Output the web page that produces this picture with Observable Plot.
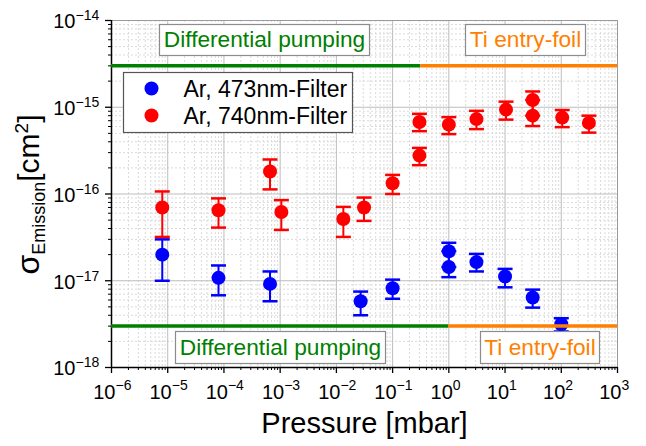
<!DOCTYPE html>
<html><head><meta charset="utf-8">
<script src="https://cdn.jsdelivr.net/npm/d3@7"></script>
<script src="https://cdn.jsdelivr.net/npm/@observablehq/plot@0.6"></script>
<style>
body{margin:0;background:#fff;}
svg{font-family:"Liberation Sans",Arial,sans-serif;}
</style>
</head><body><div id="chart"></div>
<script>
// ---- data: Ar, 473nm-Filter (blue)
const pressure473 = [8e-6, 8e-5, 6.6e-4, 0.027, 0.1, 1, 1, 3.1, 10, 31, 100];
const sigma473    = [2.0e-17, 1.08e-17, 9.2e-18, 5.8e-18, 8.2e-18, 2.19e-17, 1.44e-17, 1.64e-17, 1.12e-17, 6.4e-18, 3.15e-18];
const low473      = [1.0e-17, 6.8e-18, 5.8e-18, 4.0e-18, 6.2e-18, 1.44e-17, 1.10e-17, 1.28e-17, 8.4e-18, 4.9e-18, 2.6e-18];
const high473     = [3.0e-17, 1.5e-17, 1.28e-17, 7.5e-18, 1.03e-17, 2.74e-17, 2.19e-17, 2.04e-17, 1.37e-17, 7.9e-18, 3.7e-18];
// ---- data: Ar, 740nm-Filter (red)
const pressure740 = [8e-6, 8e-5, 6.6e-4, 1.05e-3, 0.0133, 0.031, 0.1, 0.3, 0.3, 1, 3.1, 10.4, 31, 31, 104, 310];
const sigma740    = [7.0e-17, 6.5e-17, 1.82e-16, 6.2e-17, 5.15e-17, 7.0e-17, 1.33e-16, 2.77e-16, 6.76e-16, 6.3e-16, 7.3e-16, 9.4e-16, 1.21e-15, 8.0e-16, 7.6e-16, 6.6e-16];
const low740      = [3.2e-17, 4.1e-17, 1.13e-16, 3.85e-17, 3.2e-17, 4.9e-17, 1.0e-16, 2.15e-16, 5.3e-16, 4.9e-16, 5.6e-16, 7.2e-16, 8.0e-16, 6.07e-16, 5.9e-16, 5.1e-16];
const high740     = [1.07e-16, 8.9e-17, 2.5e-16, 8.5e-17, 7.1e-17, 9.1e-17, 1.66e-16, 3.4e-16, 8.4e-16, 7.7e-16, 9.1e-16, 1.16e-15, 1.52e-15, 1.21e-15, 9.3e-16, 8.0e-16];

// ---- series / legend
const seriesNames  = ["Ar, 473nm-Filter", "Ar, 740nm-Filter"];
const seriesColors = ["#0000ff", "#ff0000"];

// ---- region annotations
const regionLabels = ["Differential pumping", "Ti entry-foil", "Differential pumping", "Ti entry-foil"];
const regionColors = ["#008000", "#ff8000", "#008000", "#ff8000"];
const regionLevel  = [3e-15, 3e-15, 3e-18, 3e-18];
const regionStart  = [1e-6, 0.316, 1e-6, 1];
const regionEnd    = [0.316, 1e3, 1, 1e3];

// ---- tick labels (exponents of ten)
const xExponents = [-6, -5, -4, -3, -2, -1, 0, 1, 2, 3];
const yExponents = [-18, -17, -16, -15, -14];
const minorMultipliers = [2, 3, 4, 5, 6, 7, 8, 9];

const xMajor = xExponents.map(e => 10 ** e);
const yMajor = yExponents.map(e => 10 ** e);
const xMinor = xExponents.slice(0, -1).flatMap(e => minorMultipliers.map(m => m * 10 ** e));
const yMinor = yExponents.slice(0, -1).flatMap(e => minorMultipliers.map(m => m * 10 ** e));
const expText = e => (e < 0 ? "\u2212" : "") + Math.abs(e);

const blue = pressure473.map((p, i) => ({p, s: sigma473[i], lo: low473[i], hi: high473[i]}));
const red  = pressure740.map((p, i) => ({p, s: sigma740[i], lo: low740[i], hi: high740[i]}));
const regions = regionLevel.map((y, i) => ({y, x1: regionStart[i], x2: regionEnd[i], c: regionColors[i]}));

const cap = {draw(ctx) { ctx.moveTo(-7.5, 0); ctx.lineTo(7.5, 0); }};

function seriesMarks(data, color) {
  return [
    Plot.ruleX(data, {x: "p", y1: "lo", y2: "hi", stroke: color, strokeWidth: 2}),
    Plot.dot(data, {x: "p", y: "lo", symbol: cap, stroke: color, fill: "none", strokeWidth: 2.5}),
    Plot.dot(data, {x: "p", y: "hi", symbol: cap, stroke: color, fill: "none", strokeWidth: 2.5}),
    Plot.dot(data, {x: "p", y: "s", r: 7, fill: color, stroke: "none"})
  ];
}

// annotation boxes (layout in px relative to the frame)
const boxLayout = [
  {l: 48, r: 248, t: 4, b: 312, cx: 153, cy: 19.5},
  {l: 354, r: 32, t: 4, b: 312, cx: 414, cy: 19.5},
  {l: 64, r: 232, t: 311, b: 4, cx: 169, cy: 327},
  {l: 369, r: 18, t: 311, b: 4, cx: 428.5, cy: 327}
];

const labelMarks = regionLabels.flatMap((txt, i) => {
  const b = boxLayout[i];
  return [
    Plot.frame({insetLeft: b.l, insetRight: b.r, insetTop: b.t, insetBottom: b.b, fill: "white", stroke: "#8c8c8c", strokeWidth: 1.2}),
    Plot.text([txt], {text: d => d, frameAnchor: "top-left", lineAnchor: "middle", dx: b.cx, dy: b.cy, fill: regionColors[i], fontSize: 22.7, textAnchor: "middle"})
  ];
});

const legendMarks = [
  Plot.frame({insetLeft: 12, insetRight: 265, insetTop: 52, insetBottom: 235, fill: "white", stroke: "#555", strokeWidth: 1.2}),
  ...seriesNames.flatMap((name, i) => [
    Plot.dot([name], {frameAnchor: "top-left", dx: 40, dy: 68 + 27 * i, r: 7, fill: seriesColors[i]}),
    Plot.text([name], {text: d => d, frameAnchor: "top-left", lineAnchor: "middle", dx: 72, dy: 69.5 + 27 * i, textAnchor: "start", fontSize: 23, fill: "black"})
  ])
];

const chart = Plot.plot({
  width: 646, height: 446,
  marginLeft: 111, marginRight: 29, marginTop: 20, marginBottom: 79,
  x: {type: "log", domain: [1e-6, 1e3], label: null},
  y: {type: "log", domain: [1e-18, 1e-14], label: null},
  style: {fontFamily: "Liberation Sans, Arial, sans-serif", fontSize: "20px", background: "white", overflow: "visible"},
  marks: [
    Plot.ruleX(xMinor, {x: d => d, stroke: "#dadada", strokeDasharray: "2,2"}),
    Plot.ruleY(yMinor, {y: d => d, stroke: "#dadada", strokeDasharray: "2,2"}),
    Plot.ruleX(xMajor, {x: d => d, stroke: "#bdbdbd"}),
    Plot.ruleY(yMajor, {y: d => d, stroke: "#bdbdbd"}),
    Plot.frame({stroke: "#9a9a9a"}),
    Plot.ruleX([xMajor[0]], {x: d => d, stroke: "black", strokeWidth: 1.5}),
    Plot.ruleY([yMajor[0]], {y: d => d, stroke: "black", strokeWidth: 1.5}),
    Plot.axisX(xMinor, {tickSize: 3, tickFormat: () => "", strokeWidth: 1}),
    Plot.axisX(xMajor, {tickSize: 6, tickFormat: () => "", strokeWidth: 1.3}),
    Plot.axisY(yMinor, {tickSize: 3, tickFormat: () => "", strokeWidth: 1}),
    Plot.axisY(yMajor, {tickSize: 6, tickFormat: () => "", strokeWidth: 1.3}),
    Plot.text(xExponents, {x: e => 10 ** e, text: () => "10", frameAnchor: "bottom", lineAnchor: "middle", textAnchor: "end", dx: 4, dy: 24.6, fontSize: 20, fill: "black"}),
    Plot.text(xExponents, {x: e => 10 ** e, text: expText, frameAnchor: "bottom", lineAnchor: "middle", textAnchor: "start", dx: 4, dy: 18.5, fontSize: 14, fill: "black"}),
    Plot.text(yExponents, {y: e => 10 ** e, text: () => "10", frameAnchor: "left", lineAnchor: "middle", textAnchor: "end", dx: -36, dy: 1.5, fontSize: 20, fill: "black"}),
    Plot.text(yExponents, {y: e => 10 ** e, text: expText, frameAnchor: "left", lineAnchor: "middle", textAnchor: "start", dx: -36, dy: -4.5, fontSize: 14, fill: "black"}),
    ...seriesMarks(blue, seriesColors[0]),
    ...seriesMarks(red, seriesColors[1]),
    Plot.ruleY(regions, {y: "y", x1: "x1", x2: "x2", stroke: "c", strokeWidth: 3.5}),
    ...labelMarks,
    ...legendMarks,
    Plot.text(["Pressure [mbar]"], {text: d => d, frameAnchor: "bottom", lineAnchor: "middle", dy: 56.7, fontSize: 29, fill: "black"})
  ]
});

document.getElementById("chart").appendChild(chart);

// y-axis title with subscript / superscript
const svg = d3.select(chart);
const t = svg.append("text")
  .attr("transform", "translate(39,194.5) rotate(-90)")
  .attr("text-anchor", "middle")
  .attr("fill", "black")
  .style("font-family", "Liberation Sans, Arial, sans-serif");
t.append("tspan").attr("font-size", 32).text("\u03c3");
t.append("tspan").attr("font-size", 18).attr("dy", 6).text("Emission");
t.append("tspan").attr("font-size", 30).attr("dy", -6).text("[cm");
t.append("tspan").attr("font-size", 19).attr("dy", -11).text("2");
t.append("tspan").attr("font-size", 30).attr("dy", 11).text("]");
</script>
</body></html>
